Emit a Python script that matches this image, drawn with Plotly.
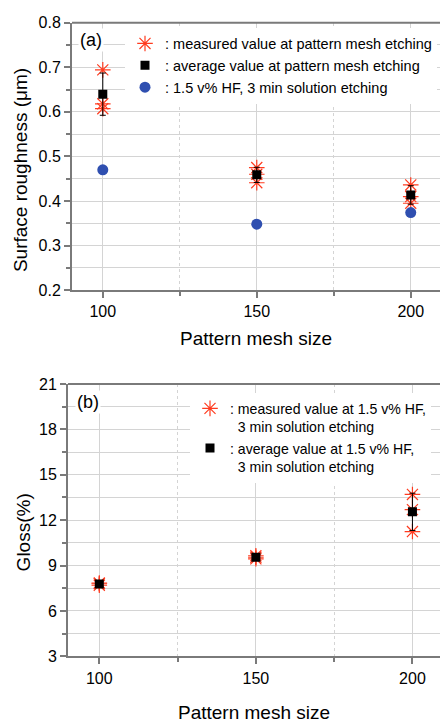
import numpy as np
import plotly.graph_objects as go

# ---------------- data ----------------
mesh = [100, 150, 200]

# panel (a): surface roughness (um)
rough_measured = [[0.694, 0.618, 0.607],
                  [0.475, 0.460, 0.441],
                  [0.436, 0.410, 0.395]]
rough_hf = [0.470, 0.348, 0.374]

# panel (b): gloss (%)
gloss_measured = [[7.70, 7.80, 7.85],
                  [9.45, 9.55, 9.65],
                  [13.70, 12.70, 11.25]]

legend_a = [": measured value at pattern mesh etching",
            ": average value at pattern mesh etching",
            ": 1.5 v% HF, 3 min solution etching"]
legend_b = [": measured value at 1.5 v% HF,<br>&nbsp;&nbsp;3 min solution etching",
            ": average value at 1.5 v% HF,<br>&nbsp;&nbsp;3 min solution etching"]

x_title = "Pattern mesh size"
y_title_a = "Surface roughness (\u03bcm)"
y_title_b = "Gloss(%)"

# ---------------- derived ----------------
def flat(meas):
    xs, ys = [], []
    for m, vals in zip(mesh, meas):
        for v in vals:
            xs.append(m)
            ys.append(v)
    return xs, ys

ra_x, ra_y = flat(rough_measured)
gb_x, gb_y = flat(gloss_measured)
rough_mean = [float(np.mean(v)) for v in rough_measured]
rough_std = [float(np.std(v, ddof=1)) for v in rough_measured]
gloss_mean = [float(np.mean(v)) for v in gloss_measured]
gloss_std = [float(np.std(v, ddof=1)) for v in gloss_measured]

FONT = "Arial, Liberation Sans, sans-serif"
RED = "#ff3b1f"
BLUE = "#2f4fb0"
AXC = "#7a7a7a"
GRID = "#d4d4d4"

W, H = 440, 724
ML = 68

def px2x(p):
    return (p - ML) / (W - ML)

def py2y(p):
    return 1 - p / H

fig = go.Figure()

star = dict(symbol="asterisk-open", size=13, color=RED,
            line=dict(color=RED, width=1.2))

# panel (a)
fig.add_trace(go.Scatter(x=ra_x, y=ra_y, mode="markers", name=legend_a[0],
                         marker=star, xaxis="x", yaxis="y", legend="legend"))
fig.add_trace(go.Scatter(x=mesh, y=rough_mean, mode="markers", name=legend_a[1],
                         marker=dict(symbol="square", size=9, color="black"),
                         error_y=dict(type="data", array=rough_std, color="black",
                                      thickness=1, width=3),
                         xaxis="x", yaxis="y", legend="legend"))
fig.add_trace(go.Scatter(x=mesh, y=rough_hf, mode="markers", name=legend_a[2],
                         marker=dict(symbol="circle", size=11, color=BLUE),
                         xaxis="x", yaxis="y", legend="legend"))

# panel (b)
fig.add_trace(go.Scatter(x=gb_x, y=gb_y, mode="markers", name=legend_b[0],
                         marker=star, xaxis="x2", yaxis="y2", legend="legend2"))
fig.add_trace(go.Scatter(x=mesh, y=gloss_mean, mode="markers", name=legend_b[1],
                         marker=dict(symbol="square", size=9, color="black"),
                         error_y=dict(type="data", array=gloss_std, color="black",
                                      thickness=1, width=3),
                         xaxis="x2", yaxis="y2", legend="legend2"))

def xaxis_style(standoff):
    return dict(showline=True, linecolor=AXC, linewidth=2,
                ticks="outside", ticklen=6, tickwidth=1.5, tickcolor=AXC,
                showgrid=True, gridcolor=GRID, gridwidth=1,
                zeroline=False, dtick=50, tick0=100,
                tickfont=dict(family=FONT, size=16, color="black"),
                minor=dict(dtick=25, ticks="outside", ticklen=4, tickcolor=AXC,
                           showgrid=True, gridcolor=GRID, griddash="dot"),
                title=dict(text=x_title, font=dict(family=FONT, size=19, color="black"),
                           standoff=standoff))

common_y = dict(showline=True, linecolor=AXC, linewidth=2,
                ticks="outside", ticklen=6, tickwidth=1.5, tickcolor=AXC,
                showgrid=True, gridcolor=GRID, gridwidth=1, zeroline=False,
                tickfont=dict(family=FONT, size=16, color="black"))

fig.update_layout(
    width=W, height=H,
    margin=dict(l=ML, r=0, t=0, b=0),
    paper_bgcolor="white", plot_bgcolor="white",
    font=dict(family=FONT, color="black"),
    xaxis=dict(xaxis_style(12), domain=[px2x(72), 1], range=[90, 209.5], anchor="y"),
    yaxis=dict(common_y, domain=[py2y(289), py2y(15)], range=[0.2, 0.8],
               dtick=0.1, tick0=0.2, tickformat=".1f", anchor="x",
               minor=dict(dtick=0.05, ticks="outside", ticklen=4, tickcolor=AXC,
                          showgrid=True, gridcolor=GRID)),
    xaxis2=dict(xaxis_style(20), domain=[0, 1], range=[90, 208.8], anchor="y2"),
    yaxis2=dict(common_y, domain=[py2y(664), py2y(385)], range=[3, 21],
                dtick=3, tick0=3, anchor="x2",
                minor=dict(dtick=1.5, ticks="outside", ticklen=4, tickcolor=AXC,
                           showgrid=True, gridcolor=GRID)),
    legend=dict(x=px2x(125), y=py2y(20), xanchor="left", yanchor="top",
                bgcolor="white", borderwidth=0, tracegroupgap=0,
                font=dict(family=FONT, size=14.5, color="black")),
    legend2=dict(x=px2x(190), y=py2y(394), xanchor="left", yanchor="top",
                 bgcolor="white", borderwidth=0, valign="top",
                 font=dict(family=FONT, size=14.1, color="black")),
    showlegend=True,
)

# top frame lines
for xr, yr in (("x domain", "y domain"), ("x2 domain", "y2 domain")):
    fig.add_shape(type="line", xref=xr, yref=yr, x0=0, x1=1, y0=1, y1=1,
                  line=dict(color=AXC, width=2), layer="above")

# panel labels and y titles
def label(text, px, py, size, angle=0, bg=None):
    fig.add_annotation(text=text, xref="paper", yref="paper", x=px2x(px), y=py2y(py),
                       xanchor="center", yanchor="middle", showarrow=False,
                       textangle=angle, bgcolor=bg,
                       font=dict(family=FONT, size=size, color="black"))

label("(a)", 91, 33, 18, bg="white")
label("(b)", 88, 403, 18, bg="white")
label(y_title_a, 20, 166, 19, angle=-90)
label(y_title_b, 23, 537, 19, angle=-90)

fig.write_html("out.html")
